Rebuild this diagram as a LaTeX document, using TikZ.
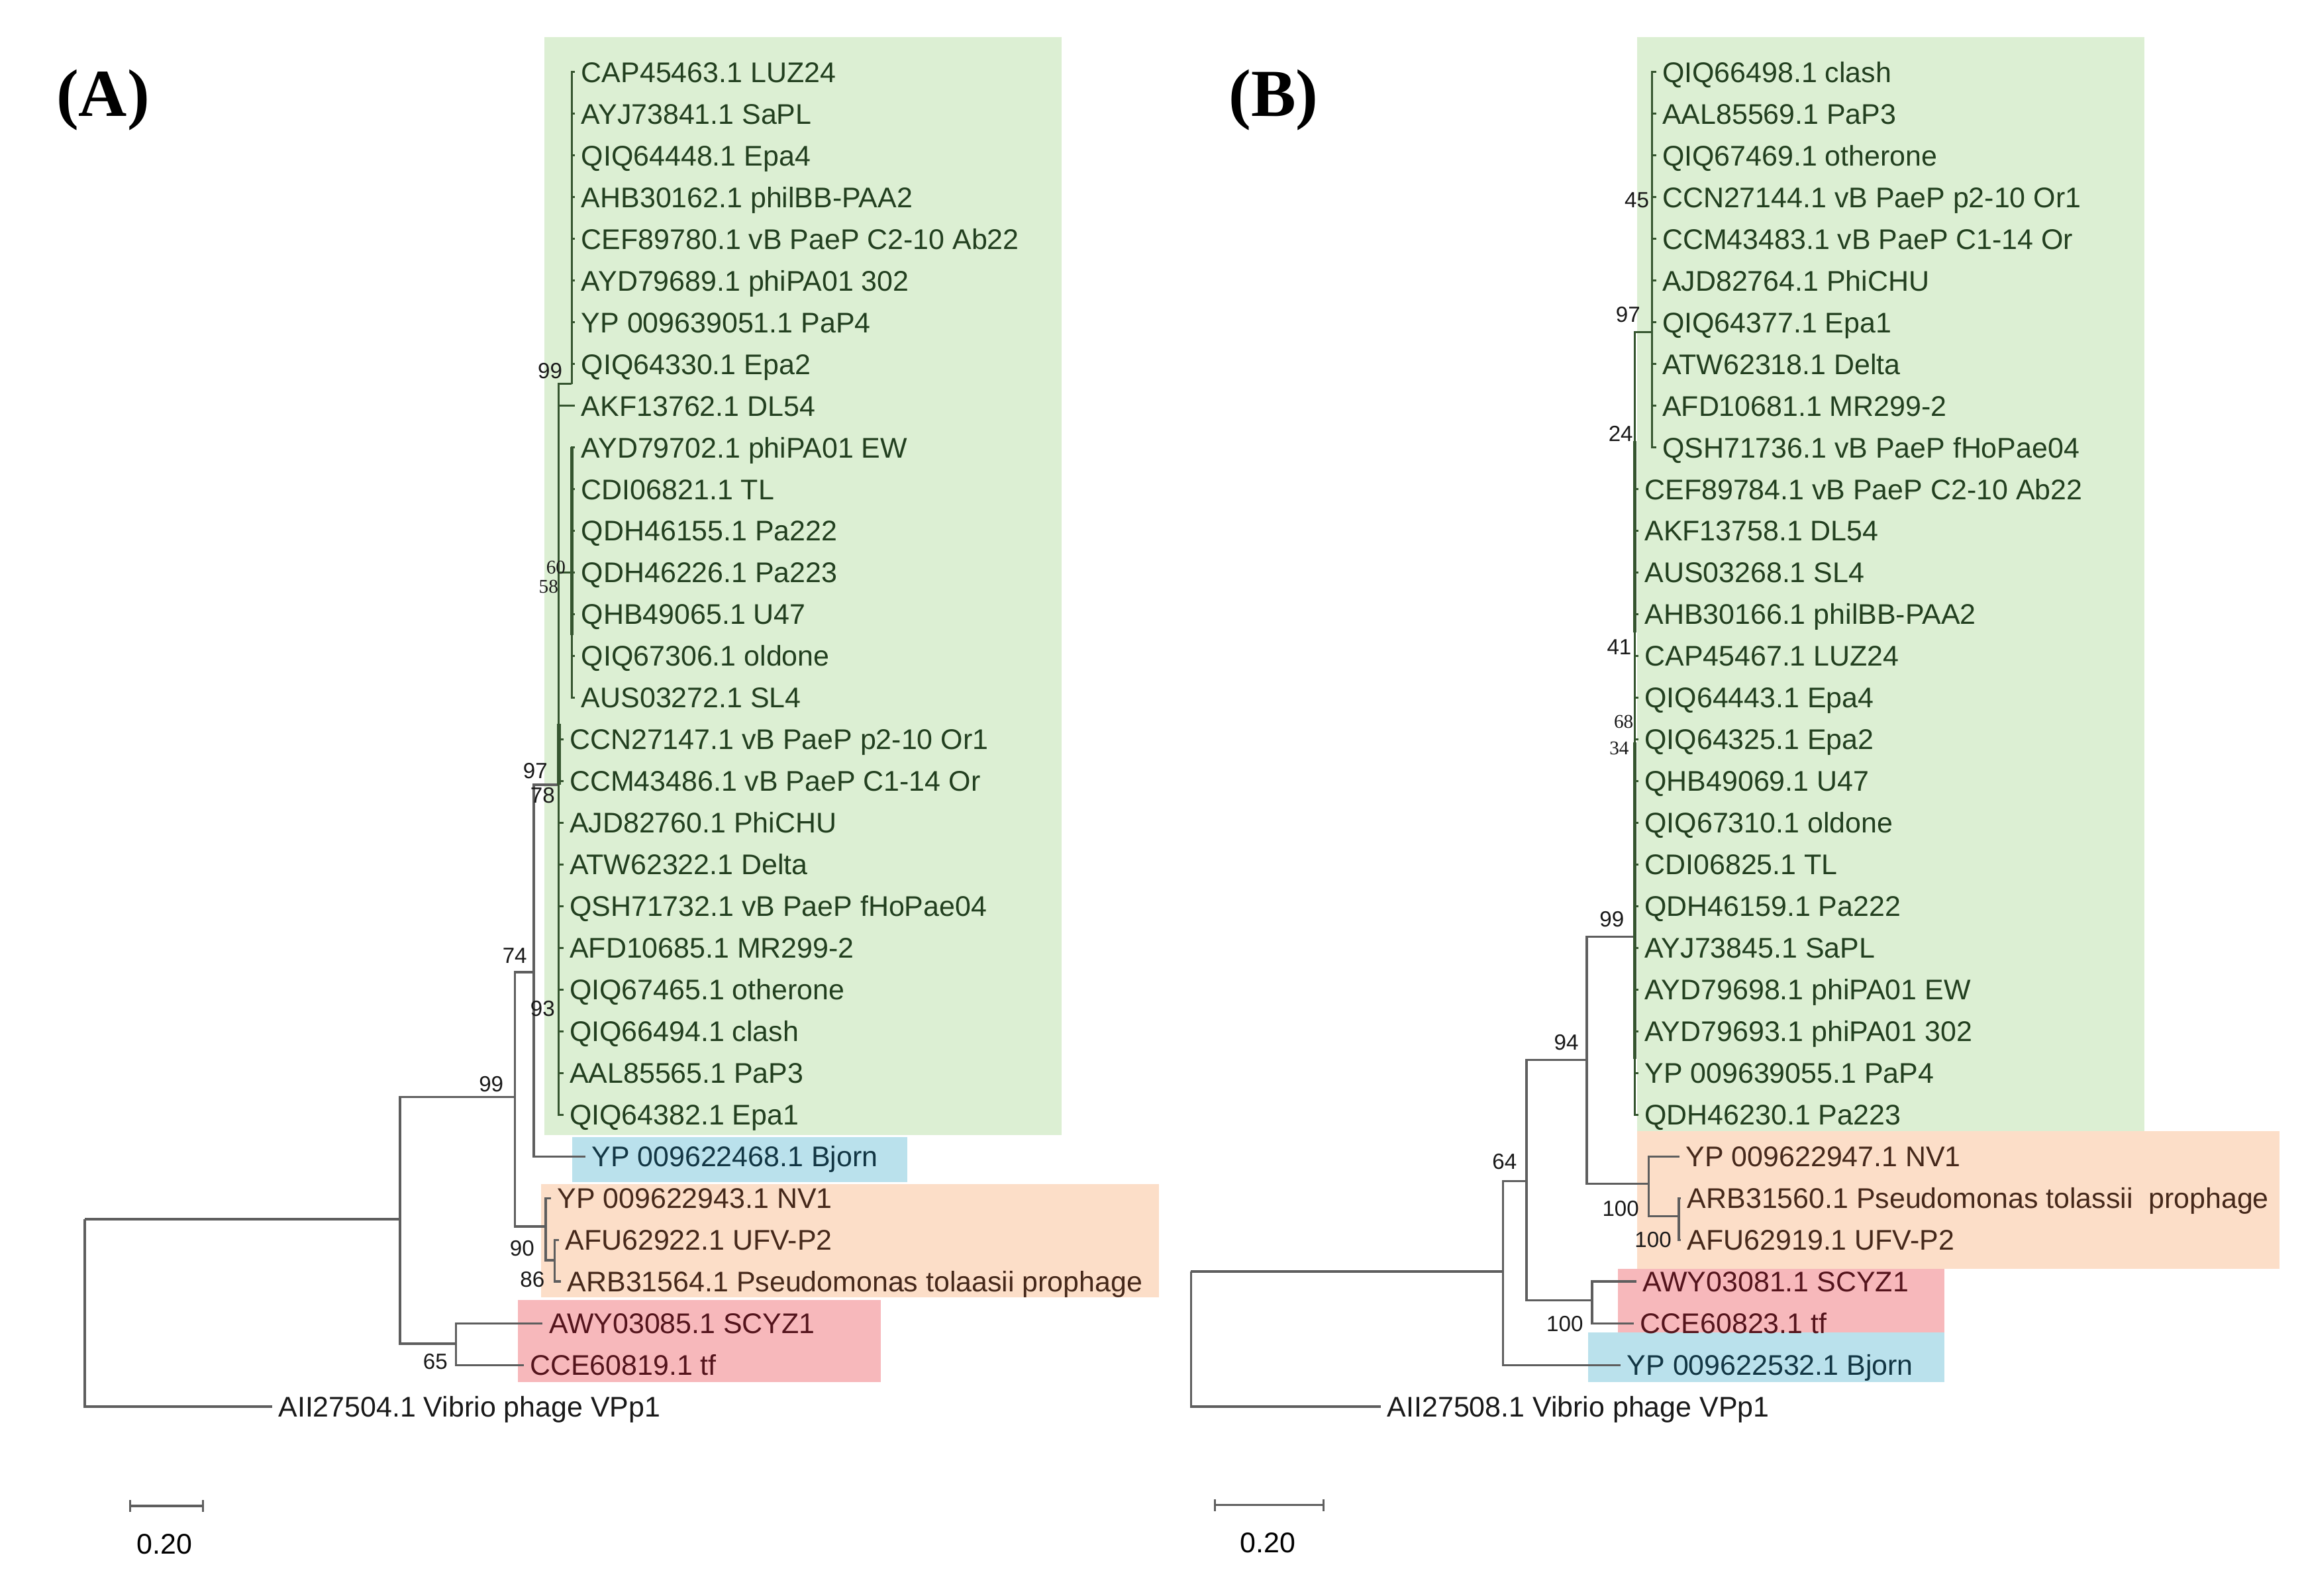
\documentclass[tikz,border=0pt]{standalone}
\usepackage{fontspec}
\setmainfont{Liberation Sans}
\newfontfamily\serifbold{Liberation Serif}
\definecolor{greenbg}{HTML}{DCEFD3}
\definecolor{bluebg}{HTML}{BAE1EC}
\definecolor{orangebg}{HTML}{FCDEC8}
\definecolor{redbg}{HTML}{F7B8BB}
\definecolor{greentxt}{HTML}{223F1F}
\definecolor{orangetxt}{HTML}{45281A}
\definecolor{redtxt}{HTML}{54141C}
\definecolor{bluetxt}{HTML}{123644}
\definecolor{branchgray}{HTML}{5E5E5E}
\definecolor{branchgreen}{HTML}{35552F}

\begin{document}
\begin{tikzpicture}[x=0.02cm,y=-0.02cm]
\tikzset{leaf/.style={anchor=west, inner ysep=0pt, inner xsep=0.08cm, text height=7.9pt, text depth=0pt, font=\fontsize{11}{13}\selectfont}}
\tikzset{branch/.style={draw=branchgray, line width=0.85pt}}
\tikzset{branchG/.style={draw=branchgreen, line width=0.75pt}}
\tikzset{bs/.style={inner sep=0pt, text=black!90, font=\fontsize{8.5}{9}\selectfont}}
\tikzset{bsserif/.style={inner sep=0pt, text=black!90, font=\serifbold\fontsize{7.5}{8}\selectfont}}
\useasboundingbox[fill=white] (0,0) rectangle (1568,1085);

% coloured clade boxes
\fill[greenbg] (370,25) rectangle (722,772);
\fill[bluebg] (389,773) rectangle (617,804);
\fill[orangebg] (368,805) rectangle (788,882);
\fill[redbg] (352,884) rectangle (599,940);
\fill[greenbg] (1113,25) rectangle (1458,769);
\fill[orangebg] (1113,769) rectangle (1550,863);
\fill[redbg] (1100,863) rectangle (1322,906);
\fill[bluebg] (1080,906) rectangle (1322,940);

\node[font=\serifbold\bfseries\fontsize{26}{28}\selectfont] (labA) at (70,68) {(A)};
\node[font=\serifbold\bfseries\fontsize{26}{28}\selectfont] (labB) at (866,68) {(B)};

%%% tree A
\foreach \r/\t in {1/CAP45463.1 LUZ24, 2/AYJ73841.1 SaPL, 3/QIQ64448.1 Epa4, 4/AHB30162.1 philBB-PAA2,
  5/CEF89780.1 vB PaeP C2-10 Ab22, 6/AYD79689.1 phiPA01 302, 7/YP 009639051.1 PaP4, 8/QIQ64330.1 Epa2,
  9/AKF13762.1 DL54, 10/AYD79702.1 phiPA01 EW, 11/CDI06821.1 TL, 12/QDH46155.1 Pa222,
  13/QDH46226.1 Pa223, 14/QHB49065.1 U47, 15/QIQ67306.1 oldone, 16/AUS03272.1 SL4}
  \node[leaf,text=greentxt] (a\r) at (391,{49+(\r-1)*28.36}) {\t};
\foreach \r/\t in {17/CCN27147.1 vB PaeP p2-10 Or1, 18/CCM43486.1 vB PaeP C1-14 Or, 19/AJD82760.1 PhiCHU,
  20/ATW62322.1 Delta, 21/QSH71732.1 vB PaeP fHoPae04, 22/AFD10685.1 MR299-2, 23/QIQ67465.1 otherone,
  24/QIQ66494.1 clash, 25/AAL85565.1 PaP3, 26/QIQ64382.1 Epa1}
  \node[leaf,text=greentxt] (a\r) at (383,{49+(\r-1)*28.36}) {\t};
\node[leaf,text=bluetxt] (a27) at (398,786.4) {YP 009622468.1 Bjorn};
\node[leaf,text=orangetxt] (a28) at (374.6,814.7) {YP 009622943.1 NV1};
\node[leaf,text=orangetxt] (a29) at (380,843.1) {AFU62922.1 UFV-P2};
\node[leaf,text=orangetxt] (a30) at (381.5,871.4) {ARB31564.1 Pseudomonas tolaasii prophage};
\node[leaf,text=redtxt] (a31) at (369,899.8) {AWY03085.1 SCYZ1};
\node[leaf,text=redtxt] (a32) at (356,928.2) {CCE60819.1 tf};
\node[leaf,text=black!90] (a33) at (185,956.5) {AII27504.1 Vibrio phage VPp1};

\coordinate (nA0) at (57.7,829);
\coordinate (nA1) at (272,829);
\coordinate (nA2) at (350,746);
\coordinate (nA3) at (363,661);
\coordinate (nA4) at (380,533.6);
\coordinate (nA5) at (388.7,261);
\coordinate (nA6) at (388.7,389.3);
\coordinate (nA7) at (371,834);
\coordinate (nA8) at (377,857);
\coordinate (nA9) at (310,913.7);

\draw[branch] (nA0) |- (a33.west);
\draw[branch] (nA0) -- (nA1);
\draw[branch] (nA1) |- (nA2);
\draw[branch] (nA1) |- (nA9);
\draw[branch] (nA2) |- (nA3);
\draw[branch] (nA2) |- (nA7);
\draw[branch] (nA3) |- (a27.west);
\draw[branch] (nA3) |- (nA4);
\draw[branch] (nA7) |- (a28.west);
\draw[branch] (nA7) |- (nA8);
\draw[branch] (nA8) |- (a29.west);
\draw[branch] (nA8) |- (a30.west);
\draw[branch] (nA9) |- (a31.west);
\draw[branch] (nA9) |- (a32.west);
\draw[branchG] (nA4) |- (nA5);
\draw[branchG] (nA4) |- (nA6);
\foreach \r in {9,17,18,...,26} \draw[branchG] (nA4) |- (a\r.west);
\foreach \r in {1,...,8} \draw[branchG] (nA5) |- (a\r.west);
\foreach \r in {10,...,16} \draw[branchG] (nA6) |- (a\r.west);
\draw[branchG, line width=1.4pt] (380,492) -- (nA4);
\draw[branchG, line width=1.3pt] (388.7,304) -- (388.7,432);

\node[bs] (bA1) at (374,252) {99};
\node[bsserif] (bA2) at (378,386) {60};
\node[bsserif] (bA3) at (373,399) {58};
\node[bs] (bA4) at (364,524) {97};
\node[bs] (bA5) at (369,541) {78};
\node[bs] (bA6) at (350,650) {74};
\node[bs] (bA7) at (369,686) {93};
\node[bs] (bA8) at (334,737) {99};
\node[bs] (bA9) at (355,849) {90};
\node[bs] (bA10) at (362,870) {86};
\node[bs] (bA11) at (296,926) {65};

\coordinate (sbA1) at (88.6,1024);
\coordinate (sbA2) at (138,1024);
\draw[branch] (sbA1) -- (sbA2);
\draw[branch] (sbA1) ++(0,-4) -- ++(0,8);
\draw[branch] (sbA2) ++(0,-4) -- ++(0,8);
\node[font=\fontsize{11}{13}\selectfont] (sbAlab) at (112,1050) {0.20};

%%% tree B
\foreach \r/\t in {1/QIQ66498.1 clash, 2/AAL85569.1 PaP3, 3/QIQ67469.1 otherone, 4/CCN27144.1 vB PaeP p2-10 Or1,
  5/CCM43483.1 vB PaeP C1-14 Or, 6/AJD82764.1 PhiCHU, 7/QIQ64377.1 Epa1, 8/ATW62318.1 Delta,
  9/AFD10681.1 MR299-2, 10/QSH71736.1 vB PaeP fHoPae04}
  \node[leaf,text=greentxt] (b\r) at (1126,{49+(\r-1)*28.36}) {\t};
\foreach \r/\t in {11/CEF89784.1 vB PaeP C2-10 Ab22, 12/AKF13758.1 DL54, 13/AUS03268.1 SL4,
  14/AHB30166.1 philBB-PAA2, 15/CAP45467.1 LUZ24, 16/QIQ64443.1 Epa4, 17/QIQ64325.1 Epa2,
  18/QHB49069.1 U47, 19/QIQ67310.1 oldone, 20/CDI06825.1 TL, 21/QDH46159.1 Pa222,
  22/AYJ73845.1 SaPL, 23/AYD79698.1 phiPA01 EW, 24/AYD79693.1 phiPA01 302,
  25/YP 009639055.1 PaP4, 26/QDH46230.1 Pa223}
  \node[leaf,text=greentxt] (b\r) at (1114,{49+(\r-1)*28.36}) {\t};
\node[leaf,text=orangetxt] (b27) at (1142,786.4) {YP 009622947.1 NV1};
\node[leaf,text=orangetxt] (b28) at (1143,814.7) {ARB31560.1 Pseudomonas tolassii\ \ prophage};
\node[leaf,text=orangetxt] (b29) at (1143,843.1) {AFU62919.1 UFV-P2};
\node[leaf,text=redtxt] (b30) at (1112.6,871.4) {AWY03081.1 SCYZ1};
\node[leaf,text=redtxt] (b31) at (1111,899.8) {CCE60823.1 tf};
\node[leaf,text=bluetxt] (b32) at (1102,928.2) {YP 009622532.1 Bjorn};
\node[leaf,text=black!90] (b33) at (939,956.5) {AII27508.1 Vibrio phage VPp1};

\coordinate (nB0) at (809.8,864.6);
\coordinate (nB1) at (1022,864.6);
\coordinate (nB2) at (1038,803);
\coordinate (nB3) at (1079,720.8);
\coordinate (nB4) at (1111.5,637);
\coordinate (nB5) at (1123.5,226);
\coordinate (nB6) at (1121,805);
\coordinate (nB7) at (1141.6,827);
\coordinate (nB8) at (1082.6,884.3);

\draw[branch] (nB0) |- (b33.west);
\draw[branch] (nB0) -- (nB1);
\draw[branch] (nB1) |- (nB2);
\draw[branch] (nB1) |- (b32.west);
\draw[branch] (nB2) |- (nB3);
\draw[branch] (nB2) |- (nB8);
\draw[branch] (nB3) |- (nB4);
\draw[branch] (nB3) |- (nB6);
\draw[branch] (nB6) |- (b27.west);
\draw[branch] (nB6) |- (nB7);
\draw[branch] (nB7) |- (b28.west);
\draw[branch] (nB7) |- (b29.west);
\draw[branch] (nB8) |- (b30.west);
\draw[branch] (nB8) |- (b31.west);
\draw[branchG] (nB4) |- (nB5);
\foreach \r in {11,...,26} \draw[branchG] (nB4) |- (b\r.west);
\foreach \r in {1,...,10} \draw[branchG] (nB5) |- (b\r.west);
\draw[branchG, line width=1.3pt] (1111.5,300) -- (1111.5,430);
\draw[branchG, line width=1.3pt] (1111.5,505) -- (1111.5,720);

\node[bs] (bB1) at (1113,136) {45};
\node[bs] (bB2) at (1107,214) {97};
\node[bs] (bB3) at (1102,295) {24};
\node[bs] (bB4) at (1101,440) {41};
\node[bsserif] (bB5) at (1104,491) {68};
\node[bsserif] (bB6) at (1101,509) {34};
\node[bs] (bB7) at (1096,625) {99};
\node[bs] (bB8) at (1065,709) {94};
\node[bs] (bB9) at (1023,790) {64};
\node[bs] (bB10) at (1102,822) {100};
\node[bs] (bB11) at (1124,843) {100};
\node[bs] (bB12) at (1064,900) {100};

\coordinate (sbB1) at (826,1023.4);
\coordinate (sbB2) at (900,1023.4);
\draw[branch] (sbB1) -- (sbB2);
\draw[branch] (sbB1) ++(0,-4) -- ++(0,8);
\draw[branch] (sbB2) ++(0,-4) -- ++(0,8);
\node[font=\fontsize{11}{13}\selectfont] (sbBlab) at (862,1049) {0.20};
\end{tikzpicture}
\end{document}
